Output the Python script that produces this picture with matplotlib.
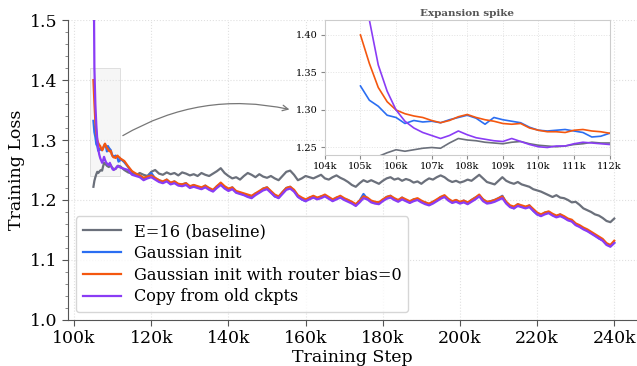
import numpy as np
import matplotlib
matplotlib.use("Agg")
import matplotlib.pyplot as plt
from matplotlib.patches import Rectangle
from matplotlib.ticker import MultipleLocator, FuncFormatter

plt.rcParams['font.family'] = ['DejaVu Serif']

# training steps (in k): fine grid over the expansion spike, then every 1k
steps_spike = np.arange(105.0, 112.01, 0.25)
steps_rest = np.arange(113, 241, 1)

baseline_spike = [1.222, 1.232, 1.238, 1.243, 1.247, 1.245, 1.247, 1.249, 1.250, 1.249,
                  1.256, 1.262, 1.260, 1.259, 1.257, 1.256, 1.255, 1.257, 1.258, 1.255,
                  1.253, 1.252, 1.251, 1.252, 1.254, 1.255, 1.257, 1.256, 1.256]
gauss_spike = [1.332, 1.313, 1.305, 1.293, 1.290, 1.282, 1.286, 1.284, 1.285, 1.283,
               1.287, 1.290, 1.293, 1.289, 1.281, 1.290, 1.287, 1.285, 1.283, 1.277,
               1.273, 1.272, 1.273, 1.274, 1.272, 1.270, 1.264, 1.265, 1.269]
gauss_bias0_spike = [1.400, 1.362, 1.330, 1.311, 1.300, 1.295, 1.292, 1.290, 1.286, 1.283,
                     1.286, 1.291, 1.294, 1.290, 1.287, 1.285, 1.282, 1.281, 1.282, 1.276,
                     1.273, 1.271, 1.271, 1.270, 1.273, 1.274, 1.272, 1.271, 1.269]
copy_spike = [1.650, 1.420, 1.360, 1.325, 1.300, 1.285, 1.276, 1.270, 1.266, 1.262,
              1.266, 1.272, 1.267, 1.263, 1.261, 1.259, 1.258, 1.262, 1.258, 1.254,
              1.251, 1.250, 1.252, 1.252, 1.255, 1.257, 1.256, 1.255, 1.254]

# 113k .. 240k
baseline_rest = [
    1.250, 1.246, 1.244, 1.241, 1.245, 1.242, 1.240, 1.247, 1.250, 1.244,
    1.242, 1.246, 1.243, 1.245, 1.241, 1.246, 1.244, 1.241, 1.243, 1.240,
    1.245, 1.242, 1.240, 1.244, 1.248, 1.253, 1.245, 1.240, 1.236, 1.238,
    1.234, 1.240, 1.245, 1.242, 1.238, 1.243, 1.239, 1.237, 1.240, 1.236,
    1.233, 1.240, 1.247, 1.249, 1.242, 1.233, 1.236, 1.240, 1.238, 1.236,
    1.239, 1.242, 1.236, 1.234, 1.238, 1.241, 1.237, 1.234, 1.230, 1.225,
    1.222, 1.228, 1.233, 1.230, 1.233, 1.230, 1.227, 1.232, 1.236, 1.238,
    1.234, 1.236, 1.232, 1.235, 1.233, 1.229, 1.231, 1.227, 1.232, 1.236,
    1.234, 1.238, 1.241, 1.238, 1.233, 1.230, 1.232, 1.229, 1.231, 1.234,
    1.232, 1.237, 1.242, 1.236, 1.230, 1.228, 1.226, 1.232, 1.238, 1.232,
    1.229, 1.227, 1.230, 1.226, 1.224, 1.222, 1.218, 1.216, 1.214, 1.211,
    1.208, 1.205, 1.208, 1.204, 1.203, 1.200, 1.196, 1.197, 1.192, 1.186,
    1.183, 1.180, 1.176, 1.174, 1.170, 1.165, 1.163, 1.169]
gauss_rest = [
    1.263, 1.255, 1.247, 1.242, 1.241, 1.235, 1.239, 1.245, 1.236, 1.233,
    1.229, 1.234, 1.227, 1.231, 1.225, 1.226, 1.228, 1.221, 1.225, 1.221,
    1.219, 1.224, 1.218, 1.215, 1.223, 1.227, 1.221, 1.217, 1.221, 1.213,
    1.211, 1.209, 1.206, 1.204, 1.211, 1.213, 1.219, 1.221, 1.213, 1.206,
    1.204, 1.213, 1.220, 1.222, 1.215, 1.206, 1.201, 1.198, 1.204, 1.205,
    1.202, 1.206, 1.207, 1.203, 1.199, 1.204, 1.205, 1.201, 1.200, 1.195,
    1.191, 1.199, 1.210, 1.202, 1.197, 1.195, 1.196, 1.199, 1.205, 1.207,
    1.201, 1.199, 1.204, 1.199, 1.196, 1.201, 1.201, 1.197, 1.196, 1.192,
    1.197, 1.199, 1.205, 1.206, 1.200, 1.196, 1.200, 1.195, 1.199, 1.194,
    1.200, 1.204, 1.207, 1.201, 1.196, 1.198, 1.200, 1.203, 1.207, 1.195,
    1.189, 1.186, 1.193, 1.189, 1.187, 1.191, 1.182, 1.176, 1.174, 1.179,
    1.180, 1.175, 1.172, 1.176, 1.171, 1.167, 1.165, 1.159, 1.156, 1.152,
    1.149, 1.145, 1.141, 1.136, 1.133, 1.126, 1.123, 1.129]
gauss_bias0_rest = [
    1.265, 1.256, 1.248, 1.244, 1.241, 1.237, 1.239, 1.241, 1.237, 1.233,
    1.231, 1.234, 1.229, 1.231, 1.227, 1.226, 1.228, 1.223, 1.225, 1.223,
    1.221, 1.224, 1.220, 1.217, 1.223, 1.229, 1.223, 1.219, 1.221, 1.215,
    1.213, 1.211, 1.209, 1.207, 1.211, 1.215, 1.219, 1.221, 1.215, 1.209,
    1.206, 1.213, 1.220, 1.222, 1.217, 1.208, 1.204, 1.201, 1.204, 1.207,
    1.204, 1.206, 1.209, 1.205, 1.201, 1.204, 1.207, 1.203, 1.200, 1.197,
    1.193, 1.199, 1.206, 1.204, 1.199, 1.197, 1.196, 1.201, 1.205, 1.207,
    1.203, 1.200, 1.204, 1.201, 1.198, 1.201, 1.203, 1.199, 1.196, 1.194,
    1.197, 1.201, 1.205, 1.208, 1.202, 1.198, 1.200, 1.197, 1.199, 1.196,
    1.200, 1.204, 1.209, 1.201, 1.197, 1.198, 1.200, 1.203, 1.206, 1.197,
    1.191, 1.189, 1.193, 1.191, 1.189, 1.191, 1.185, 1.179, 1.176, 1.179,
    1.181, 1.177, 1.174, 1.176, 1.173, 1.169, 1.167, 1.161, 1.158, 1.154,
    1.151, 1.147, 1.143, 1.139, 1.135, 1.128, 1.125, 1.132]
copy_rest = [
    1.252, 1.250, 1.242, 1.240, 1.238, 1.233, 1.236, 1.238, 1.234, 1.230,
    1.228, 1.231, 1.226, 1.228, 1.224, 1.223, 1.225, 1.220, 1.222, 1.220,
    1.218, 1.221, 1.217, 1.214, 1.220, 1.225, 1.219, 1.215, 1.218, 1.212,
    1.210, 1.208, 1.205, 1.203, 1.208, 1.212, 1.216, 1.218, 1.212, 1.206,
    1.203, 1.210, 1.217, 1.219, 1.214, 1.205, 1.201, 1.198, 1.201, 1.204,
    1.201, 1.203, 1.206, 1.202, 1.198, 1.201, 1.204, 1.200, 1.197, 1.194,
    1.190, 1.196, 1.203, 1.201, 1.196, 1.194, 1.193, 1.198, 1.202, 1.204,
    1.200, 1.197, 1.201, 1.198, 1.195, 1.198, 1.200, 1.196, 1.193, 1.191,
    1.194, 1.198, 1.202, 1.205, 1.199, 1.195, 1.197, 1.194, 1.196, 1.193,
    1.197, 1.201, 1.206, 1.198, 1.194, 1.195, 1.197, 1.200, 1.203, 1.194,
    1.188, 1.186, 1.190, 1.188, 1.186, 1.188, 1.182, 1.176, 1.173, 1.176,
    1.178, 1.174, 1.171, 1.173, 1.170, 1.166, 1.164, 1.158, 1.155, 1.151,
    1.148, 1.144, 1.140, 1.136, 1.132, 1.125, 1.122, 1.128]

labels = ["E=16 (baseline)", "Gaussian init",
          "Gaussian init with router bias=0", "Copy from old ckpts"]
colors = ["#6b707b", "#2b6ef2", "#f4570f", "#8a3cf5"]

steps = np.concatenate([steps_spike, steps_rest]) * 1000
series = [baseline_spike + baseline_rest,
          gauss_spike + gauss_rest,
          gauss_bias0_spike + gauss_bias0_rest,
          copy_spike + copy_rest]

fig = plt.figure(figsize=(6.37, 3.66), dpi=100)
ax = fig.add_axes([0.107, 0.126, 0.893, 0.819])

for y, lab, c in zip(series, labels, colors):
    ax.plot(steps, y, color=c, lw=1.6, label=lab)

kfmt = FuncFormatter(lambda v, p: f"{int(round(v / 1000))}k")
ax.set_xlim(98450, 245900)
ax.set_ylim(1.0, 1.5)
ax.xaxis.set_major_locator(MultipleLocator(20000))
ax.xaxis.set_major_formatter(kfmt)
ax.yaxis.set_major_locator(MultipleLocator(0.1))
ax.yaxis.set_minor_locator(MultipleLocator(0.02))
ax.tick_params(axis='both', which='major', labelsize=12.5, length=4, color='#555555')
ax.tick_params(axis='y', which='minor', length=2, color='#777777')
ax.set_xlabel("Training Step", fontsize=12.5, labelpad=1)
ax.set_ylabel("Training Loss", fontsize=12.5, labelpad=4)
ax.grid(True, linestyle=':', color='#e0e0e0', lw=0.8)
for s in ['top', 'right']:
    ax.spines[s].set_visible(False)
for s in ['left', 'bottom']:
    ax.spines[s].set_color('#555555')

leg = ax.legend(loc='lower left', fontsize=11.6, frameon=True, handlelength=2.4,
                borderaxespad=0.5, labelspacing=0.3, borderpad=0.4, fancybox=True)
leg.get_frame().set_edgecolor('#cccccc')

# zoom region box
ax.add_patch(Rectangle((104000, 1.24), 8000, 0.18, facecolor='#eeeeee', alpha=0.5,
                       edgecolor='#bbbbbb', lw=0.6, zorder=0))
ax.annotate("", xy=(156500, 1.35), xytext=(112000, 1.305),
            arrowprops=dict(arrowstyle='->', color='#777777', lw=0.9,
                            connectionstyle='arc3,rad=-0.2'))

# inset
axin = fig.add_axes([0.510, 0.5765, 0.447, 0.369])
for y, c in zip(series, colors):
    axin.plot(steps, y, color=c, lw=1.2)
axin.set_xlim(104000, 112000)
axin.set_ylim(1.24, 1.42)
axin.xaxis.set_major_locator(MultipleLocator(1000))
axin.xaxis.set_major_formatter(kfmt)
axin.yaxis.set_major_locator(MultipleLocator(0.05))
axin.yaxis.set_major_formatter(FuncFormatter(lambda v, p: f"{v:.2f}"))
axin.tick_params(labelsize=7, length=3, color='#888888', pad=2)
axin.grid(True, linestyle=':', color='#e2e2e2', lw=0.7)
for s in axin.spines.values():
    s.set_color('#cccccc')
axin.set_title("Expansion spike", fontsize=7.5, fontweight='bold', color='#555555', pad=3)

fig.savefig("out.png", dpi=100)
